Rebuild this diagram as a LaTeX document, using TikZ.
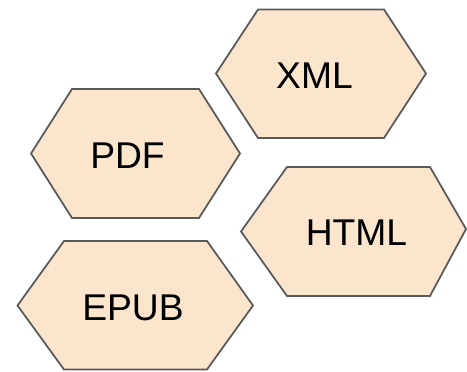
\documentclass[tikz,border=0pt]{standalone}
\usepackage{fontspec}
\setmainfont{Liberation Sans}
\usepackage{xcolor}
\definecolor{hexfill}{HTML}{FCE5CD}
\definecolor{hexline}{HTML}{595959}

\begin{document}
\begin{tikzpicture}[x=0.02cm,y=-0.02cm]
  \tikzset{
    hexa/.style={fill=hexfill,draw=hexline,line width=1pt,line join=miter},
    lab/.style={anchor=base,inner sep=0pt,font=\fontsize{21.2}{25}\selectfont}
  }
  \useasboundingbox (0,0) rectangle (467,372);
  % XML
  \draw[hexa] (216,73.5)--(258,9.5)--(384,9.5)--(426,73.5)--(384,138)--(258,138)--cycle;
  \node[lab] (xml) at (314.5,88) {XML};
  % PDF
  \draw[hexa] (31,153.5)--(72,89)--(199,89)--(240,153.5)--(199,218)--(72,218)--cycle;
  \node[lab] (pdf) at (127.5,168) {PDF};
  % HTML
  \draw[hexa] (241,231.5)--(287,167)--(430,167)--(466,229)--(430,296)--(287,296)--cycle;
  \node[lab] (html) at (356.5,245) {HTML};
  % EPUB
  \draw[hexa] (17.5,305.5)--(64,241)--(207,241)--(253,305.5)--(207,369.5)--(64,369.5)--cycle;
  \node[lab] (epub) at (133,320) {EPUB};
\end{tikzpicture}
\end{document}
